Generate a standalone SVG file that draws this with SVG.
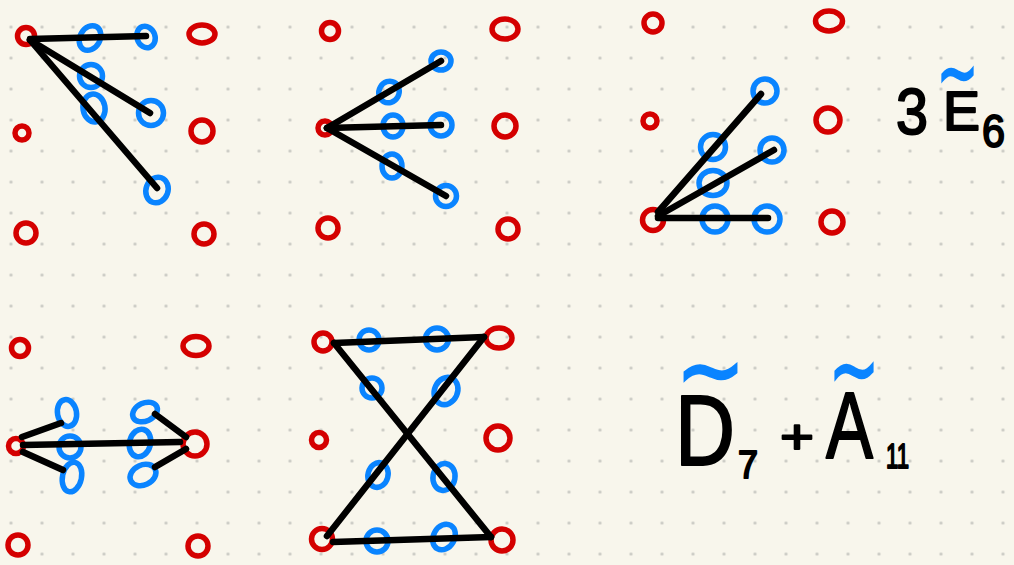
<svg xmlns="http://www.w3.org/2000/svg" width="1014" height="565" viewBox="0 0 1014 565">
<defs>
<pattern id="grid" x="-4.5" y="11.5" width="31" height="31" patternUnits="userSpaceOnUse">
<circle cx="15.5" cy="15.5" r="1.6" fill="#c8c8c2"/>
</pattern>
</defs>
<style>
.r{fill:none;stroke:#d40000;stroke-width:5.5}
.b{fill:none;stroke:#0a84ff;stroke-width:5.5}
.c line{stroke:#000;stroke-width:6.5;stroke-linecap:round}
.t{font-family:"Liberation Sans","DejaVu Sans",sans-serif;fill:#000;stroke:#000;stroke-width:2;stroke-linejoin:round}
.tl{font-family:"DejaVu Sans","Liberation Sans",sans-serif;fill:#0a84ff;stroke:#0a84ff;stroke-width:2.5}
</style>
<rect width="1014" height="565" fill="#f8f6ec"/>
<rect width="1014" height="565" fill="url(#grid)"/>

<g id="p1">
<g id="p1-r1"><circle class="r" cx="26" cy="36" r="8.5"/></g>
<g id="p1-r2"><ellipse class="r" cx="202" cy="34" rx="13" ry="9"/></g>
<g id="p1-r3"><circle class="r" cx="22" cy="133" r="7"/></g>
<g id="p1-r4"><circle class="r" cx="202" cy="131" r="11"/></g>
<g id="p1-r5"><circle class="r" cx="26" cy="233" r="10"/></g>
<g id="p1-r6"><circle class="r" cx="204" cy="234" r="10"/></g>
<g id="p1-b1"><ellipse class="b" cx="90" cy="38" rx="10" ry="13" transform="rotate(30 90 38)"/></g>
<g id="p1-b2"><ellipse class="b" cx="146" cy="37" rx="9" ry="11" transform="rotate(-20 146 37)"/></g>
<g id="p1-b3"><circle class="b" cx="91" cy="76" r="11.5"/></g>
<g id="p1-b4"><ellipse class="b" cx="94" cy="108" rx="11" ry="14" transform="rotate(-10 94 108)"/></g>
<g id="p1-b5"><circle class="b" cx="151" cy="113" r="12.5"/></g>
<g id="p1-b6"><ellipse class="b" cx="157" cy="190" rx="11" ry="13" transform="rotate(20 157 190)"/></g>
</g>

<g id="p2">
<g id="p2-r1"><circle class="r" cx="330" cy="31" r="8.5"/></g>
<g id="p2-r2"><ellipse class="r" cx="505" cy="29" rx="13" ry="10"/></g>
<g id="p2-r3"><circle class="r" cx="325" cy="128" r="7"/></g>
<g id="p2-r4"><circle class="r" cx="505" cy="126" r="11"/></g>
<g id="p2-r5"><circle class="r" cx="328" cy="228" r="10"/></g>
<g id="p2-r6"><circle class="r" cx="508" cy="229" r="10"/></g>
<g id="p2-b1"><ellipse class="b" cx="389" cy="92" rx="10" ry="11" transform="rotate(30 389 92)"/></g>
<g id="p2-b2"><ellipse class="b" cx="441" cy="61" rx="10" ry="9"/></g>
<g id="p2-b3"><ellipse class="b" cx="393" cy="126" rx="10" ry="11"/></g>
<g id="p2-b4"><circle class="b" cx="441" cy="125" r="11"/></g>
<g id="p2-b5"><ellipse class="b" cx="392" cy="166" rx="10" ry="12"/></g>
<g id="p2-b6"><circle class="b" cx="446" cy="196" r="10.5"/></g>
</g>

<g id="p3">
<g id="p3-r1"><circle class="r" cx="653" cy="23" r="9"/></g>
<g id="p3-r2"><ellipse class="r" cx="829" cy="21" rx="13.5" ry="10"/></g>
<g id="p3-r3"><circle class="r" cx="650" cy="121" r="7"/></g>
<g id="p3-r4"><circle class="r" cx="828" cy="120" r="12"/></g>
<g id="p3-r5"><circle class="r" cx="653" cy="220" r="10.5"/></g>
<g id="p3-r6"><circle class="r" cx="832" cy="222" r="11"/></g>
<g id="p3-b1"><circle class="b" cx="765" cy="91" r="12"/></g>
<g id="p3-b2"><circle class="b" cx="713" cy="147" r="12.5"/></g>
<g id="p3-b3"><circle class="b" cx="772" cy="150" r="12"/></g>
<g id="p3-b4"><ellipse class="b" cx="713" cy="183" rx="14" ry="12.5"/></g>
<g id="p3-b5"><circle class="b" cx="715" cy="219" r="13"/></g>
<g id="p3-b6"><circle class="b" cx="767" cy="219" r="13"/></g>
</g>

<g id="p4">
<g id="p4-r1"><circle class="r" cx="20" cy="348" r="8.5"/></g>
<g id="p4-r2"><ellipse class="r" cx="196" cy="346" rx="13" ry="9.5"/></g>
<g id="p4-r3"><circle class="r" cx="16" cy="446" r="7.5"/></g>
<g id="p4-r4"><circle class="r" cx="195" cy="444" r="12"/></g>
<g id="p4-r5"><circle class="r" cx="18" cy="545" r="10"/></g>
<g id="p4-r6"><circle class="r" cx="198" cy="546" r="10"/></g>
<g id="p4-b1"><ellipse class="b" cx="67" cy="413" rx="9.5" ry="13.5" transform="rotate(-10 67 413)"/></g>
<g id="p4-b2"><circle class="b" cx="70" cy="447" r="11"/></g>
<g id="p4-b3"><ellipse class="b" cx="72" cy="477" rx="9.5" ry="15" transform="rotate(12 72 477)"/></g>
<g id="p4-b4"><ellipse class="b" cx="145" cy="412" rx="13" ry="9" transform="rotate(-25 145 412)"/></g>
<g id="p4-b5"><ellipse class="b" cx="140" cy="443" rx="10.5" ry="14" transform="rotate(15 140 443)"/></g>
<g id="p4-b6"><ellipse class="b" cx="143" cy="475" rx="13.5" ry="10" transform="rotate(-25 143 475)"/></g>
</g>

<g id="p5">
<g id="p5-r1"><circle class="r" cx="323" cy="342" r="9"/></g>
<g id="p5-r2"><ellipse class="r" cx="499" cy="338" rx="13" ry="10"/></g>
<g id="p5-r3"><circle class="r" cx="319" cy="440" r="7.5"/></g>
<g id="p5-r4"><circle class="r" cx="498" cy="438" r="12"/></g>
<g id="p5-r5"><circle class="r" cx="322" cy="539" r="10.5"/></g>
<g id="p5-r6"><circle class="r" cx="502" cy="540" r="11"/></g>
<g id="p5-b1"><circle class="b" cx="369" cy="340" r="10"/></g>
<g id="p5-b2"><ellipse class="b" cx="437" cy="339" rx="11.5" ry="11"/></g>
<g id="p5-b3"><circle class="b" cx="372" cy="388" r="10"/></g>
<g id="p5-b4"><ellipse class="b" cx="446" cy="391" rx="11.5" ry="14" transform="rotate(25 446 391)"/></g>
<g id="p5-b5"><ellipse class="b" cx="378" cy="475" rx="10" ry="12.5" transform="rotate(15 378 475)"/></g>
<g id="p5-b6"><ellipse class="b" cx="444" cy="477" rx="11" ry="13.5" transform="rotate(10 444 477)"/></g>
<g id="p5-b7"><circle class="b" cx="377" cy="541" r="11"/></g>
<g id="p5-b8"><ellipse class="b" cx="444" cy="537" rx="10.5" ry="13.5" transform="rotate(30 444 537)"/></g>
</g>

<g id="connectors" class="c">
<line x1="30" y1="39" x2="146" y2="36"/>
<line x1="30" y1="40" x2="150" y2="113"/>
<line x1="30" y1="40" x2="157" y2="188"/>
<line x1="327" y1="128" x2="441" y2="61"/>
<line x1="327" y1="128" x2="441" y2="125"/>
<line x1="327" y1="128" x2="446" y2="196"/>
<line x1="658" y1="212" x2="761" y2="94"/>
<line x1="658" y1="216" x2="774" y2="150"/>
<line x1="658" y1="218" x2="768" y2="218"/>
<line x1="22" y1="437" x2="61" y2="423"/>
<line x1="23" y1="445" x2="180" y2="442"/>
<line x1="23" y1="452" x2="63" y2="470"/>
<line x1="186" y1="437" x2="155" y2="414"/>
<line x1="186" y1="449" x2="155" y2="467"/>
<line x1="334" y1="343" x2="484" y2="337"/>
<line x1="334" y1="343" x2="491" y2="537"/>
<line x1="484" y1="337" x2="327" y2="536"/>
<line x1="333" y1="542" x2="491" y2="537"/>
</g>

<g id="label-e6">
<text class="t" x="896" y="134" font-size="64" textLength="32" lengthAdjust="spacingAndGlyphs">3</text>
<text class="t" x="943" y="130" font-size="56" textLength="37" lengthAdjust="spacingAndGlyphs">E</text>
<text class="t" x="982" y="147" font-size="47" textLength="23" lengthAdjust="spacingAndGlyphs">6</text>
<text class="tl" x="937" y="98" font-size="75" textLength="41" lengthAdjust="spacingAndGlyphs">~</text>
</g>

<g id="label-d7a11">
<text class="t" x="675" y="465" font-size="100" textLength="60" lengthAdjust="spacingAndGlyphs">D</text>
<text class="t" x="738" y="478" font-size="39" textLength="20" lengthAdjust="spacingAndGlyphs">7</text>
<text class="t" x="780" y="453" font-size="48" textLength="34" lengthAdjust="spacingAndGlyphs">+</text>
<text class="t" x="826" y="458" font-size="94" textLength="47" lengthAdjust="spacingAndGlyphs">A</text>
<text class="t" x="886" y="468" font-size="35" textLength="23" lengthAdjust="spacingAndGlyphs">11</text>
<text class="tl" x="676" y="401" font-size="90" textLength="69" lengthAdjust="spacingAndGlyphs">~</text>
<text class="tl" x="829" y="399" font-size="85" textLength="50" lengthAdjust="spacingAndGlyphs">~</text>
</g>
</svg>
